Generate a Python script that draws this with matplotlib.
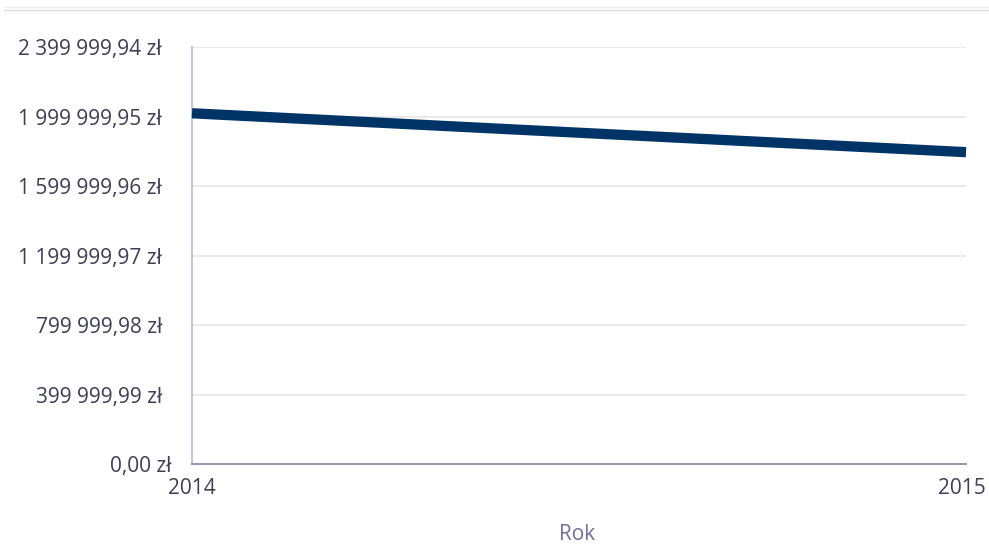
import matplotlib
matplotlib.use("Agg")
import matplotlib.pyplot as plt
from matplotlib.lines import Line2D
import matplotlib.transforms as mtransforms

years = [2014, 2015]
values = [2020000.0, 1796000.0]
y_ticks = [0.0, 399999.99, 799999.98, 1199999.97, 1599999.96, 1999999.95, 2399999.94]
y_tick_labels = ["0,00 zł", "399 999,99 zł", "799 999,98 zł", "1 199 999,97 zł",
                 "1 599 999,96 zł", "1 999 999,95 zł", "2 399 999,94 zł"]
x_tick_labels = ["2014", "2015"]
x_label = "Rok"

plt.rcParams['font.family'] = ['Open Sans', 'DejaVu Sans']
text_color = '#3d3f52'

W, H = 989, 544
fig = plt.figure(figsize=(W / 100, H / 100), dpi=100)
ax = fig.add_axes([192 / W, 1 - 464 / H, (966 - 192) / W, (464 - 47.3) / H])

ax.set_xlim(years[0], years[-1])
ax.set_ylim(y_ticks[0], y_ticks[-1])
ax.set_yticks(y_ticks)
ax.set_yticklabels(y_tick_labels)
ax.set_xticks(years)
ax.set_xticklabels(x_tick_labels)

ax.grid(axis='y', color='#e6e6e6', linewidth=1.2)
ax.set_axisbelow(True)
ax.plot(years, values, color='#003366', linewidth=7.4, solid_capstyle='butt', zorder=3, clip_on=False)

for s in ['top', 'right']:
    ax.spines[s].set_visible(False)
ax.spines['left'].set_color('#c3c6da')
ax.spines['left'].set_linewidth(1.5)
ax.spines['bottom'].set_color('#9a9cb2')
ax.spines['bottom'].set_linewidth(1.5)

ax.tick_params(axis='y', length=0, pad=21.6, labelsize=15, labelcolor=text_color)
ax.tick_params(axis='x', length=0, pad=10, labelsize=15, labelcolor=text_color)

# small per-label offsets seen in the reference
ylabels = ax.get_yticklabels()
ylabels[0].set_transform(ylabels[0].get_transform() + mtransforms.ScaledTranslation(10 / 100, 0, fig.dpi_scale_trans))
xlabels = ax.get_xticklabels()
xlabels[-1].set_transform(xlabels[-1].get_transform() + mtransforms.ScaledTranslation(-4 / 100, 0, fig.dpi_scale_trans))

fig.text(577 / W, 1 - 535 / H, x_label, ha='center', va='center', fontsize=15, color='#6f6f99')

# thin header lines at the top
fig.add_artist(Line2D([4 / W, 1], [1 - 7 / H, 1 - 7 / H], color='#ececf0', linewidth=1.0))
fig.add_artist(Line2D([4 / W, 1], [1 - 9.5 / H, 1 - 9.5 / H], color='#dcdce4', linewidth=1.0))

fig.savefig("out.png", dpi=100)
